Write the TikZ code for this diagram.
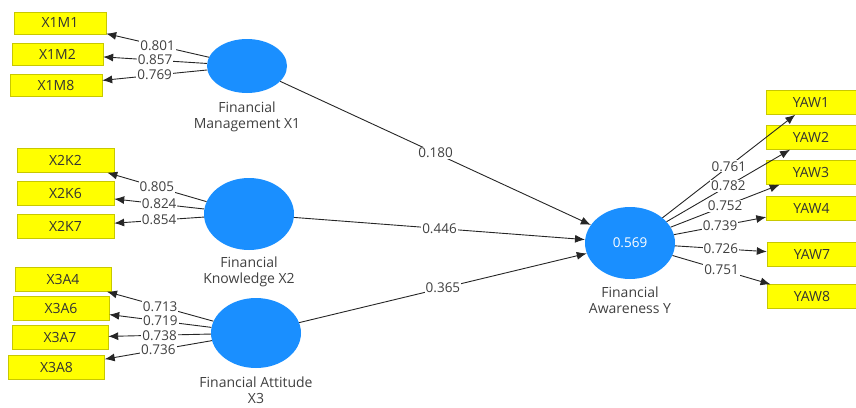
\documentclass[tikz,border=0pt]{standalone}
\usepackage{fontspec}
\setmainfont{Open Sans}
\usetikzlibrary{arrows.meta,shapes.geometric,positioning}

\begin{document}
\begin{tikzpicture}[x=1pt,y=-1pt,
  indicator/.style={draw=boxline,fill=boxfill,minimum height=24pt,inner sep=0pt,font=\fontsize{14}{16}\selectfont,text=black!80},
  construct/.style={ellipse,fill=latent,inner sep=0pt},
  caption/.style={align=center,font=\fontsize{14}{16.5}\selectfont,text=black!75,inner sep=1pt},
  loading/.style={draw=black!85,line width=0.9pt,-{Latex[length=10pt,width=8pt]}},
  coef/.style={midway,fill=white,inner sep=1pt,font=\fontsize{13.5}{13.5}\selectfont,text=black!75}]
  \definecolor{boxfill}{HTML}{FFFF00}
  \definecolor{boxline}{HTML}{C8C800}
  \definecolor{latent}{HTML}{1A8FFF}
  \useasboundingbox (0,0) rectangle (856,407);
  \node [construct,minimum width=80pt,minimum height=54pt] (x1) at (247,66) {};
  \node [construct,minimum width=90pt,minimum height=72pt] (x2) at (249,214) {};
  \node [construct,minimum width=90pt,minimum height=70pt] (x3) at (256,333) {};
  \node [construct,minimum width=90pt,minimum height=72pt,text=white,font=\fontsize{13.5}{13.5}\selectfont] (y) at (630,243) {0.569};
  \node [caption,below=7pt of x1] (x1cap) {Financial\\Management X1};
  \node [caption,below=5pt of x2] (x2cap) {Financial\\Knowledge X2};
  \node [caption,below=7pt of x3] (x3cap) {Financial Attitude\\X3};
  \node [caption,below=6pt of y] (ycap) {Financial\\Awareness Y};
  \node [indicator,minimum width=92pt,minimum height=22pt] (m1) at (60,23) {X1M1};
  \node [indicator,minimum width=91pt,minimum height=22pt] (m2) at (57.5,54) {X1M2};
  \node [indicator,minimum width=92pt,minimum height=22pt] (m8) at (56,85) {X1M8};
  \node [indicator,minimum width=97pt] (k2) at (65.5,160.5) {X2K2};
  \node [indicator,minimum width=97pt] (k6) at (65.5,193.5) {X2K6};
  \node [indicator,minimum width=97pt] (k7) at (65.5,226.5) {X2K7};
  \node [indicator,minimum width=96pt] (a4) at (63,279.5) {X3A4};
  \node [indicator,minimum width=96pt] (a6) at (61,308.5) {X3A6};
  \node [indicator,minimum width=96pt] (a7) at (60,337.5) {X3A7};
  \node [indicator,minimum width=96pt] (a8) at (56.5,367.5) {X3A8};
  \node [indicator,minimum width=90pt] (w1) at (811,102.5) {YAW1};
  \node [indicator,minimum width=90pt] (w2) at (811,137.5) {YAW2};
  \node [indicator,minimum width=90pt] (w3) at (811,172.5) {YAW3};
  \node [indicator,minimum width=90pt] (w4) at (811.5,208.5) {YAW4};
  \node [indicator,minimum width=90pt] (w7) at (812,254.5) {YAW7};
  \node [indicator,minimum width=90pt] (w8) at (812,296.5) {YAW8};
  \draw [loading] (x1) -- (m1) node [coef] {0.801};
  \draw [loading] (x1) -- (m2) node [coef] {0.857};
  \draw [loading] (x1) -- (m8) node [coef] {0.769};
  \draw [loading] (x2) -- (k2) node [coef] {0.805};
  \draw [loading] (x2) -- (k6) node [coef] {0.824};
  \draw [loading] (x2) -- (k7) node [coef] {0.854};
  \draw [loading] (x3) -- (a4) node [coef] {0.713};
  \draw [loading] (x3) -- (a6) node [coef] {0.719};
  \draw [loading] (x3) -- (a7) node [coef] {0.738};
  \draw [loading] (x3) -- (a8) node [coef] {0.736};
  \draw [loading] (y) -- (w1) node [coef] {0.761};
  \draw [loading] (y) -- (w2) node [coef] {0.782};
  \draw [loading] (y) -- (w3) node [coef] {0.752};
  \draw [loading] (y) -- (w4) node [coef] {0.739};
  \draw [loading] (y) -- (w7) node [coef] {0.726};
  \draw [loading] (y) -- (w8) node [coef] {0.751};
  \draw [loading] (x1) -- (y) node [coef] {0.180};
  \draw [loading] (x2) -- (y) node [coef] {0.446};
  \draw [loading] (x3) -- (y) node [coef] {0.365};
\end{tikzpicture}
\end{document}
